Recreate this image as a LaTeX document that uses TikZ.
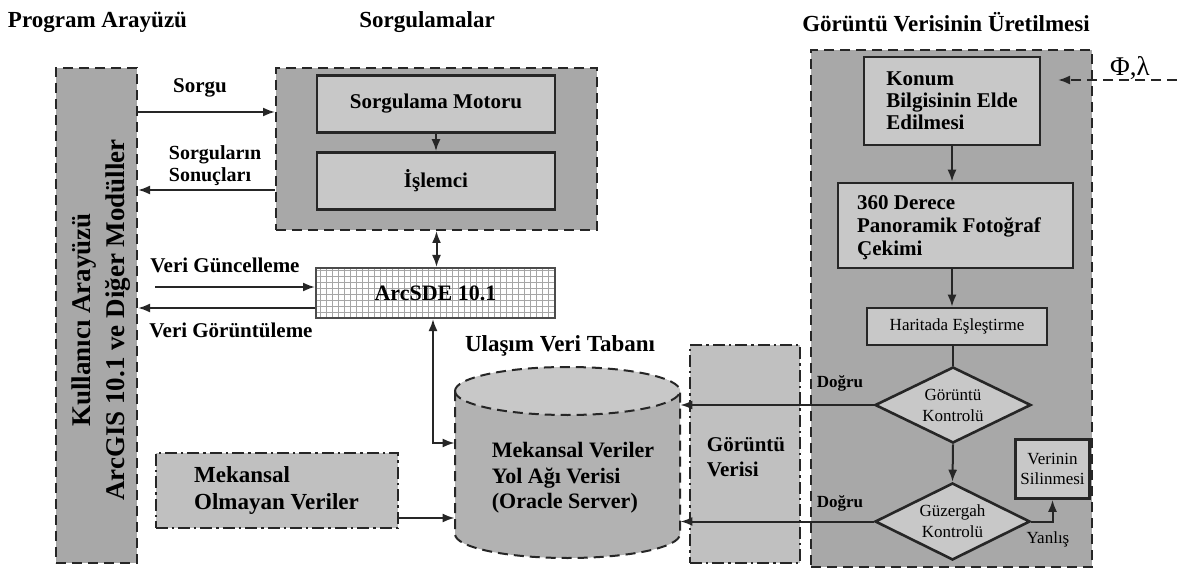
\documentclass[tikz,border=0pt]{standalone}
\usepackage{fontspec}
\setmainfont{Liberation Serif}
\usetikzlibrary{arrows.meta,shapes.geometric,calc}
\definecolor{panelgray}{RGB}{168,168,168}
\definecolor{boxgray}{RGB}{200,200,200}
\definecolor{dbgray}{RGB}{178,178,178}
\definecolor{dbtop}{RGB}{200,200,200}
\definecolor{lightgray}{RGB}{192,192,192}
\begin{document}
\begin{tikzpicture}[x=0.5pt,y=-0.5pt,
  panel/.style={draw=black!85, line width=1pt, dash pattern=on 5pt off 3pt, fill=panelgray, inner sep=0pt},
  dashdot/.style={draw=black!85, line width=1pt, dash pattern=on 6pt off 2pt on 1.2pt off 2pt, fill=lightgray, inner sep=0pt},
  box/.style={draw=black!85, line width=1.3pt, fill=boxgray, inner sep=0pt},
  diam/.style={diamond, shape aspect=2, draw=black!85, line width=1.3pt, fill=boxgray, inner sep=0pt, align=center, font=\fontsize{8.5}{10.5}\selectfont},
  ttl/.style={font=\bfseries\fontsize{11.5}{13}\selectfont, inner sep=0pt},
  lbl/.style={font=\bfseries\fontsize{10.5}{11}\selectfont, inner sep=0pt, align=left},
  bfont/.style={font=\bfseries\fontsize{10.5}{11}\selectfont, align=left},
  arr/.style={line width=1pt, draw=black!85, -{Latex[length=6pt,width=4.5pt]}},
  darr/.style={line width=1pt, draw=black!85, {Latex[length=6pt,width=4.5pt]}-{Latex[length=6pt,width=4.5pt]}},
  ln/.style={line width=1pt, draw=black!85}
]
\useasboundingbox (0,0) rectangle (1177,572);
\fill[white] (0,0) rectangle (1177,572);

% titles
\node[ttl] (t1) at (97.5,22) {Program Arayüzü};
\node[ttl] (t2) at (427,22) {Sorgulamalar};
\node[ttl] (t3) at (946,22) {Görüntü Verisinin Üretilmesi};

% left panel
\node[panel, minimum width=40.5pt, minimum height=247.5pt] (left) at (96.5,315.5) {};
\node[rotate=90, align=center, font=\bfseries\fontsize{13.5}{17}\selectfont] (lefttext) at (101,320) {Kullanıcı Arayüzü\\ArcGIS 10.1 ve Diğer Modüller};

% Sorgulamalar panel
\node[panel, minimum width=160.5pt, minimum height=81pt] (sorg) at (436.5,149) {};
\node[box, minimum width=119pt, minimum height=28.5pt, bfont] (motor) at (436,104) {Sorgulama Motoru};
\node[box, minimum width=119pt, minimum height=28.5pt, bfont] (islem) at (436,181) {İşlemci};
\draw[arr] (motor.south) -- (islem.north);

% ArcSDE
\node[draw=black!70, line width=1pt, fill=white, minimum width=119.5pt, minimum height=25pt, inner sep=0pt, font=\bfseries\fontsize{11}{12}\selectfont,
  path picture={\draw[black!35, line width=0.35pt, step=3pt] (path picture bounding box.south west) grid (path picture bounding box.north east);}] (arc) at (435.5,293) {ArcSDE 10.1};
\draw[darr] (sorg.south) -- (sorg.south |- arc.north);

% left arrows
\draw[arr] (left.east |- 0,112) -- (sorg.west |- 0,112);
\node[lbl] (lsorgu) at (200,88) {Sorgu};
\draw[arr] (sorg.west |- 0,190) -- (left.east |- 0,190);
\node[lbl, font=\bfseries\fontsize{10}{11}\selectfont] (lsonuc) at (215,166) {Sorguların\\Sonuçları};
\coordinate (vgstart) at (155,287);
\draw[arr] (vgstart) -- (arc.west |- vgstart);
\node[lbl] (lguncel) at (225,265) {Veri Güncelleme};
\draw[arr] (arc.west |- 0,308) -- (left.east |- 0,308);
\node[lbl] (lgoruntu) at (231,330) {Veri Görüntüleme};

% database cylinder
\node[minimum width=112.5pt, minimum height=95.5pt, inner sep=0pt] (db) at (567.5,462.5) {};
\path[fill=dbgray] (455,391) -- (455,534) arc[start angle=180, end angle=360, x radius=56.25pt, y radius=12pt] -- (680,391) arc[start angle=0, end angle=180, x radius=56.25pt, y radius=12pt] -- cycle;
\fill[dbtop] (567.5,391) ellipse[x radius=56.25pt, y radius=12pt];
\draw[line width=1pt, black!85, dash pattern=on 5pt off 3pt] (455,391) -- (455,534) arc[start angle=180, end angle=360, x radius=56.25pt, y radius=12pt] -- (680,391) arc[start angle=0, end angle=180, x radius=56.25pt, y radius=12pt];
\draw[line width=1pt, black!85, dash pattern=on 5pt off 3pt] (455,391) arc[start angle=180, end angle=360, x radius=56.25pt, y radius=12pt];
\node[bfont, font=\bfseries\fontsize{11}{12.8}\selectfont] (dbtext) at (573,478) {Mekansal Veriler\\Yol Ağı Verisi\\(Oracle Server)};
\node[ttl, font=\bfseries\fontsize{11.5}{12}\selectfont] (dbtitle) at (560,346) {Ulaşım Veri Tabanı};
\coordinate (dbarr) at (433,443);
\draw[darr] (arc.south -| dbarr) -- (dbarr) -- (db.west |- dbarr);

% Mekansal olmayan
\node[dashdot, minimum width=121pt, minimum height=37.5pt, fill=lightgray, font=\bfseries\fontsize{11.5}{13.5}\selectfont, align=left] (mo) at (276.5,490.5) {Mekansal\\Olmayan Veriler};
\draw[arr] (mo.east |- 0,518) -- (db.west |- 0,518);

% Goruntu verisi
\node[dashdot, minimum width=55pt, minimum height=109pt, fill=lightgray] (gv) at (745,454) {};
\node[font=\bfseries\fontsize{10.5}{12.5}\selectfont, align=left] (gvtext) at (746,457) {Görüntü\\Verisi};

% right panel
\node[panel, minimum width=140.5pt, minimum height=258.5pt] (right) at (951.5,308.5) {};
\node[box, minimum width=88pt, minimum height=44pt, font=\bfseries\fontsize{10.5}{11}\selectfont, align=left] (konum) at (952,101) {Konum\\Bilgisinin Elde\\Edilmesi};
\node[box, minimum width=117.5pt, minimum height=42.5pt] (pan) at (955.5,225.5) {};
\node[font=\bfseries\fontsize{10.5}{11.5}\selectfont, align=left] (pantext) at (949,228) {360 Derece\\Panoramik Fotoğraf\\Çekimi};
\node[box, minimum width=90pt, minimum height=18.5pt, font=\fontsize{8.5}{10}\selectfont] (har) at (957,326.5) {Haritada Eşleştirme};
\node[diam, minimum width=78pt, minimum height=38pt] (d1) at (953,405) {Görüntü\\Kontrolü};
\node[diam, minimum width=77.5pt, minimum height=38.5pt] (d2) at (952.5,521.5) {Güzergah\\Kontrolü};
\node[box, minimum width=37pt, minimum height=29.5pt, align=center, font=\fontsize{8.5}{10}\selectfont] (sil) at (1052.5,469) {Verinin\\Silinmesi};

\draw[arr] (konum.south) -- (konum.south |- pan.north);
\draw[arr] (konum.south |- pan.south) -- (konum.south |- har.north);
\draw[ln] (d1.north |- har.south) -- (d1.north);
\draw[arr] (d1.south) -- (d2.north);
\draw[arr] (d2.east) -| (sil.south);
\draw[arr] (d1.west) -- (db.east |- d1.west);
\draw[arr] (d2.west) -- (db.east |- d2.west);

\node[font=\bfseries\fontsize{8.5}{10}\selectfont] (dogru1) at (840,383) {Doğru};
\node[font=\bfseries\fontsize{8.5}{10}\selectfont] (dogru2) at (840,503) {Doğru};
\node[font=\fontsize{8.5}{10}\selectfont] (yanlis) at (1048,539) {Yanlış};

% phi lambda
\coordinate (phistart) at (1177,80);
\coordinate (phiend) at (1058,80);
\draw[line width=1pt, black!85, dash pattern=on 5pt off 3pt, -{Latex[length=6pt,width=4.5pt]}] (phistart) -- (phiend);
\node[font=\fontsize{13.5}{15}\selectfont, inner sep=0pt] (phi) at (1130,68) {Φ,λ};
\end{tikzpicture}
\end{document}
